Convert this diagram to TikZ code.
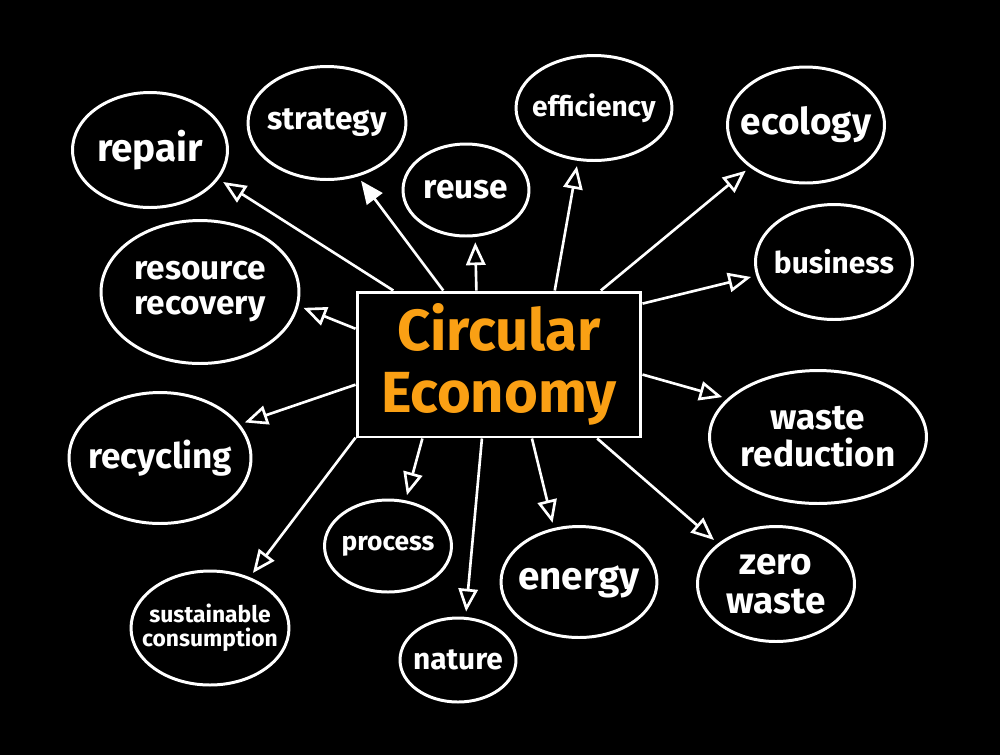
\documentclass[tikz,border=0pt]{standalone}
\usepackage{fontspec}
\setmainfont{Fira Sans}
\usetikzlibrary{arrows.meta,shapes.geometric}
\definecolor{circorange}{RGB}{250,160,20}
\tikzset{
  bubble/.style={draw=white, line width=1.7pt, ellipse, inner sep=0pt},
  link/.style={draw=white, line width=1.5pt, shorten >=3pt, -{Triangle[open,length=13pt,width=11pt]}},
}
\begin{document}
\begin{tikzpicture}[x=0.02cm, y=-0.02cm]
		\fill[black] (0,0) rectangle (1000,755);
		\node[draw=white, line width=1.7pt, minimum width=5.68cm, minimum height=2.9cm, align=center, text=circorange,
		      font=\bfseries\fontsize{33}{35}\selectfont] (box) at (499,364.5) {Circular\\Economy};
		\foreach \nm/\px/\py/\w/\h/\fs/\txt [evaluate=\fs as \bs using \fs*1.05] in {
		    repair/150/150/3.1/2.3/22/repair,
		    strategy/327/123/3.16/2.26/18/strategy,
		    efficiency/594/108/3.12/2.1/16/efficiency,
		    ecology/806/125/3.14/2.32/21/ecology,
		    reuse/466/190/2.52/1.84/19/reuse,
		    business/834/262/3.14/2.3/17/business,
		    recovery/200/292/3.96/2.86/19/{resource\\recovery},
		    wastered/818/437/4.34/2.66/20/{waste\\reduction},
		    recycling/160/458/3.64/2.62/20/recycling,
		    process/388/546/2.54/1.84/15/process,
		    energy/579/582/3.12/2.22/22/energy,
		    zerowaste/776/584/3.14/2.3/21/{zero\\waste},
		    sustainable/210/628/3.16/2.28/13/{sustainable\\consumption},
		    nature/458/660/2.32/1.68/17/nature}
		  \node[bubble, minimum width=\w cm, minimum height=\h cm,
		        label={[text=white, align=center, font=\bfseries\fontsize{\fs}{\bs}\selectfont]center:{\txt}}] (\nm) at (\px,\py) {};
		\foreach \a/\nm/\b in {145/repair/337, 107/reuse/281, 53/efficiency/253, 36/ecology/217, 23/business/190,
		                       166/recovery/352, 356/wastered/157, 188/recycling/23, 207/sustainable/52,
		                       224/process/69, 257/nature/80, 294/energy/115, 323/zerowaste/145}
		  \draw[link] (box.\a) -- (\nm.\b);
		\draw[link, -{Triangle[length=13pt,width=11pt]}] (box.127) -- (strategy.300);
\end{tikzpicture}
\end{document}
